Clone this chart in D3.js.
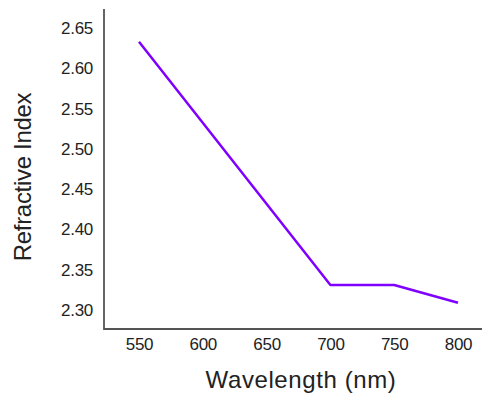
<!DOCTYPE html>
<html>
<head>
<meta charset="utf-8">
<script src="https://cdn.jsdelivr.net/npm/d3@7"></script>
<style>
  body { margin: 0; background: #fff; }
  text { font-family: "Liberation Sans", Arial, sans-serif; fill: #222; }
</style>
</head>
<body>
<script>
(function() {

    var wavelengths = [550, 700, 750, 800]; // nm
    var refIndex = [2.633, 2.331, 2.331, 2.309];
    var xTicks = [550, 600, 650, 700, 750, 800];
    var yTicks = [2.30, 2.35, 2.40, 2.45, 2.50, 2.55, 2.60, 2.65];

    var W = 484, H = 398;
    var left = 104, top = 9, bottom = 329, right = 482;

    var svg = d3.select('body').append('svg')
        .attr('width', W)
        .attr('height', H);

    var x = d3.scaleLinear().domain([550, 800]).range([139, 458]);
    var y = d3.scaleLinear().domain([2.30, 2.65]).range([310, 28]);

    // frame (left + bottom only)
    svg.append('path')
        .attr('d', 'M' + left + ',' + top + 'V' + bottom + 'H' + right)
        .attr('fill', 'none')
        .attr('stroke', '#555')
        .attr('stroke-width', 1.8);

    var xAxis = svg.append('g')
        .attr('transform', 'translate(0,' + bottom + ')')
        .call(d3.axisBottom(x).tickValues(xTicks).tickSize(0).tickPadding(9).tickFormat(d3.format('d')));
    xAxis.select('.domain').remove();

    var yAxis = svg.append('g')
        .attr('transform', 'translate(' + left + ',0)')
        .call(d3.axisLeft(y).tickValues(yTicks).tickSize(0).tickPadding(11).tickFormat(d3.format('.2f')));
    yAxis.select('.domain').remove();

    svg.selectAll('.tick text')
        .style('font-size', '17px')
        .style('letter-spacing', '-0.3px')
        .attr('fill', '#222');

    var line = d3.line()
        .x(function(d, i) { return x(wavelengths[i]); })
        .y(function(d) { return y(d); });

    svg.append('path')
        .datum(refIndex)
        .attr('d', line)
        .attr('fill', 'none')
        .attr('stroke', '#8000ff')
        .attr('stroke-width', 2.5)
        .attr('stroke-linejoin', 'round');

    svg.append('text')
        .attr('x', 301)
        .attr('y', 388)
        .attr('text-anchor', 'middle')
        .style('font-size', '24px')
        .style('letter-spacing', '0.6px')
        .text('Wavelength (nm)');

    svg.append('text')
        .attr('transform', 'translate(31,177) rotate(-90)')
        .attr('text-anchor', 'middle')
        .style('font-size', '24px')
        .style('letter-spacing', '-0.3px')
        .text('Refractive Index');

})();
</script>
</body>
</html>
